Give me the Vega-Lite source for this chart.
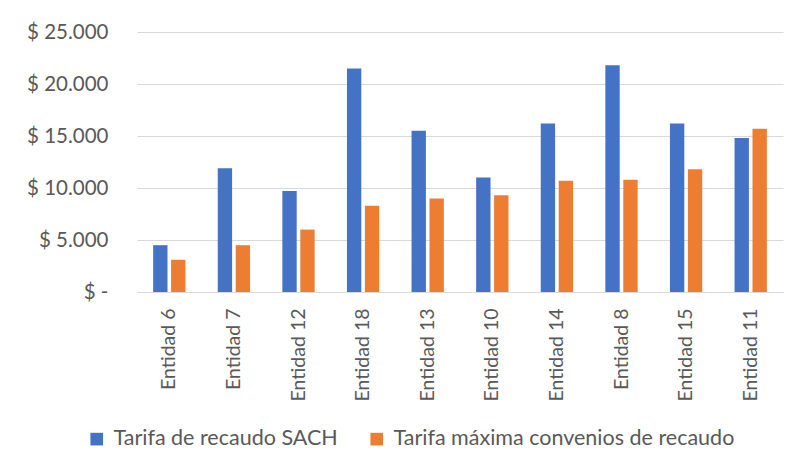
{
  "$schema": "https://vega.github.io/schema/vega-lite/v6.json",
  "width": 646,
  "height": 260,
  "autosize": {"type": "none"},
  "padding": {"left": 137, "top": 32, "right": 7, "bottom": 176},
  "background": "white",
  "config": {
    "view": {"stroke": null},
    "font": "Lato",
    "axis": {"labelFont": "Lato", "labelColor": "#595959", "titleColor": "#595959"},
    "legend": {"labelFont": "Lato", "labelColor": "#595959"}
  },
  "data": {
    "values": [
      {"entidad": "Entidad 6", "serie": "Tarifa de recaudo SACH", "valor": 4500},
      {"entidad": "Entidad 6", "serie": "Tarifa máxima convenios de recaudo", "valor": 3100},
      {"entidad": "Entidad 7", "serie": "Tarifa de recaudo SACH", "valor": 11900},
      {"entidad": "Entidad 7", "serie": "Tarifa máxima convenios de recaudo", "valor": 4500},
      {"entidad": "Entidad 12", "serie": "Tarifa de recaudo SACH", "valor": 9700},
      {"entidad": "Entidad 12", "serie": "Tarifa máxima convenios de recaudo", "valor": 6000},
      {"entidad": "Entidad 18", "serie": "Tarifa de recaudo SACH", "valor": 21500},
      {"entidad": "Entidad 18", "serie": "Tarifa máxima convenios de recaudo", "valor": 8300},
      {"entidad": "Entidad 13", "serie": "Tarifa de recaudo SACH", "valor": 15500},
      {"entidad": "Entidad 13", "serie": "Tarifa máxima convenios de recaudo", "valor": 9000},
      {"entidad": "Entidad 10", "serie": "Tarifa de recaudo SACH", "valor": 11000},
      {"entidad": "Entidad 10", "serie": "Tarifa máxima convenios de recaudo", "valor": 9300},
      {"entidad": "Entidad 14", "serie": "Tarifa de recaudo SACH", "valor": 16200},
      {"entidad": "Entidad 14", "serie": "Tarifa máxima convenios de recaudo", "valor": 10700},
      {"entidad": "Entidad 8", "serie": "Tarifa de recaudo SACH", "valor": 21800},
      {"entidad": "Entidad 8", "serie": "Tarifa máxima convenios de recaudo", "valor": 10800},
      {"entidad": "Entidad 15", "serie": "Tarifa de recaudo SACH", "valor": 16200},
      {"entidad": "Entidad 15", "serie": "Tarifa máxima convenios de recaudo", "valor": 11800},
      {"entidad": "Entidad 11", "serie": "Tarifa de recaudo SACH", "valor": 14800},
      {"entidad": "Entidad 11", "serie": "Tarifa máxima convenios de recaudo", "valor": 15700}
    ]
  },
  "mark": {"type": "bar"},
  "encoding": {
    "x": {
      "field": "entidad",
      "type": "nominal",
      "sort": null,
      "scale": {"paddingInner": 0.5, "paddingOuter": 0.25},
      "axis": {
        "title": null,
        "labelAngle": -90,
        "labelFontSize": 19.5,
        "labelPadding": 16,
        "ticks": false,
        "domainColor": "#D9D9D9",
        "domainWidth": 1,
        "grid": false
      }
    },
    "xOffset": {
      "field": "serie",
      "type": "nominal",
      "sort": null,
      "scale": {"paddingInner": 0.2}
    },
    "y": {
      "field": "valor",
      "type": "quantitative",
      "scale": {"domain": [0, 25000], "nice": false},
      "axis": {
        "title": null,
        "values": [0, 5000, 10000, 15000, 20000, 25000],
        "labelExpr": "datum.value == 0 ? '$ -' : '$ ' + replace(format(datum.value, ','), ',', '.')",
        "labelFontSize": 20.5,
        "labelPadding": 29,
        "ticks": false,
        "domain": false,
        "gridColor": "#D9D9D9",
        "gridWidth": 1
      }
    },
    "color": {
      "field": "serie",
      "type": "nominal",
      "sort": null,
      "scale": {"range": ["#4472C4", "#ED7D31"]},
      "legend": {
        "title": null,
        "orient": "none",
        "legendX": -51,
        "legendY": 396,
        "direction": "horizontal",
        "symbolType": "square",
        "symbolSize": 160,
        "symbolStrokeWidth": 0,
        "labelFontSize": 21.5,
        "labelLimit": 0,
        "labelOffset": 6,
        "columnPadding": 28
      }
    }
  }
}
